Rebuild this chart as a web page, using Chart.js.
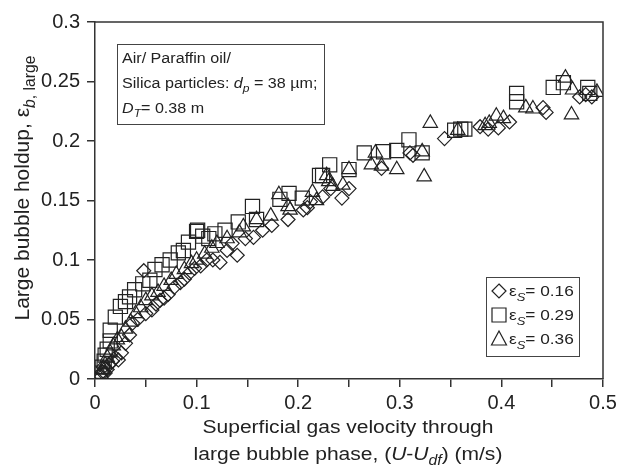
<!DOCTYPE html>
<html>
<head>
<meta charset="utf-8">
<script src="https://cdn.jsdelivr.net/npm/chart.js@4/dist/chart.umd.min.js"></script>
<style>
  html, body { margin: 0; padding: 0; background: #fff; }
  #wrap { width: 621px; height: 468px; }
</style>
</head>
<body>
<div id="wrap"><canvas id="chart" width="621" height="468"></canvas></div>
<script>
// εs = 0.16 (diamonds)
const es016 = [[0.005,0.003],[0.007,0.006],[0.008,0.01],[0.01,0.005],[0.012,0.008],[0.014,0.012],[0.017,0.015],[0.02,0.018],[0.023,0.016],[0.026,0.022],[0.03,0.03],[0.034,0.037],[0.037,0.047],[0.042,0.05],[0.048,0.091],[0.05,0.055],[0.056,0.058],[0.06,0.063],[0.064,0.066],[0.068,0.068],[0.072,0.071],[0.078,0.077],[0.084,0.081],[0.088,0.084],[0.093,0.089],[0.098,0.093],[0.104,0.095],[0.11,0.1],[0.116,0.1],[0.123,0.098],[0.13,0.108],[0.135,0.114],[0.14,0.104],[0.148,0.118],[0.156,0.119],[0.165,0.125],[0.174,0.129],[0.19,0.134],[0.205,0.142],[0.209,0.144],[0.212,0.149],[0.224,0.153],[0.232,0.16],[0.243,0.152],[0.25,0.16],[0.282,0.177],[0.31,0.19],[0.313,0.188],[0.344,0.202],[0.379,0.212],[0.387,0.21],[0.397,0.211],[0.408,0.216],[0.441,0.228],[0.444,0.224],[0.477,0.237],[0.483,0.239],[0.489,0.237]];
// εs = 0.29 (squares)
const es029 = [[0.005,0.005],[0.007,0.01],[0.009,0.015],[0.01,0.02],[0.012,0.025],[0.015,0.032],[0.015,0.041],[0.02,0.052],[0.025,0.061],[0.03,0.065],[0.034,0.069],[0.039,0.075],[0.047,0.08],[0.054,0.083],[0.059,0.092],[0.066,0.096],[0.074,0.1],[0.082,0.106],[0.087,0.108],[0.092,0.115],[0.1,0.124],[0.101,0.125],[0.106,0.12],[0.112,0.118],[0.118,0.122],[0.128,0.125],[0.141,0.132],[0.155,0.145],[0.159,0.134],[0.182,0.151],[0.191,0.156],[0.204,0.152],[0.221,0.171],[0.224,0.171],[0.231,0.18],[0.25,0.176],[0.265,0.19],[0.284,0.191],[0.297,0.192],[0.309,0.201],[0.322,0.19],[0.354,0.209],[0.36,0.21],[0.364,0.21],[0.415,0.24],[0.415,0.233],[0.451,0.245],[0.461,0.249],[0.485,0.245],[0.487,0.24]];
// εs = 0.36 (triangles)
const es036 = [[0.006,0.004],[0.008,0.008],[0.01,0.012],[0.012,0.018],[0.015,0.022],[0.018,0.028],[0.022,0.033],[0.026,0.035],[0.03,0.042],[0.035,0.048],[0.04,0.055],[0.045,0.06],[0.05,0.066],[0.056,0.07],[0.062,0.073],[0.068,0.078],[0.075,0.083],[0.08,0.088],[0.088,0.092],[0.095,0.097],[0.1,0.1],[0.108,0.105],[0.115,0.11],[0.12,0.114],[0.13,0.118],[0.142,0.123],[0.146,0.128],[0.159,0.134],[0.173,0.137],[0.181,0.155],[0.19,0.145],[0.192,0.142],[0.214,0.157],[0.218,0.15],[0.228,0.171],[0.23,0.166],[0.234,0.162],[0.244,0.163],[0.25,0.176],[0.272,0.18],[0.276,0.19],[0.282,0.179],[0.297,0.176],[0.322,0.191],[0.324,0.17],[0.33,0.215],[0.357,0.209],[0.384,0.213],[0.388,0.215],[0.395,0.221],[0.402,0.219],[0.424,0.228],[0.431,0.227],[0.463,0.253],[0.469,0.222],[0.47,0.243],[0.494,0.241]];

const xTicks = [0, 0.05, 0.1, 0.15, 0.2, 0.25, 0.3, 0.35, 0.4, 0.45, 0.5];
const yTicks = [0, 0.05, 0.1, 0.15, 0.2, 0.25, 0.3];
const legendLabels = ["0.16", "0.29", "0.36"];

const FONT = "'Liberation Sans', Arial, sans-serif";
const INK = "#222";
const SX = 1.15; // the original type is a bit wide

const toPts = arr => arr.map(p => ({ x: p[0], y: p[1] }));

// text made of parts: [text, {it, sub}]
function richWidth(ctx, parts, size, sx = SX) {
  let w = 0;
  for (const [t, o = {}] of parts) {
    const s = o.sub ? size * 0.75 : size;
    ctx.font = `${o.it ? "italic " : ""}${s}px ${FONT}`;
    w += ctx.measureText(t).width;
  }
  return w * sx;
}
function drawRich(ctx, x, y, parts, size, sx = SX) {
  ctx.save();
  ctx.translate(x, y);
  ctx.scale(sx, 1);
  let cx = 0;
  for (const [t, o = {}] of parts) {
    const s = o.sub ? size * 0.75 : size;
    ctx.font = `${o.it ? "italic " : ""}${s}px ${FONT}`;
    ctx.fillText(t, cx, o.sub ? size * 0.3 : 0);
    cx += ctx.measureText(t).width;
  }
  ctx.restore();
}

function shape(ctx, style, x, y) {
  ctx.beginPath();
  if (style === "rectRot") {
    ctx.moveTo(x, y - 7); ctx.lineTo(x + 7, y); ctx.lineTo(x, y + 7); ctx.lineTo(x - 7, y); ctx.closePath();
  } else if (style === "rect") {
    ctx.rect(x - 7, y - 7, 14, 14);
  } else {
    ctx.moveTo(x, y - 8); ctx.lineTo(x + 7.5, y + 6); ctx.lineTo(x - 7.5, y + 6); ctx.closePath();
  }
  ctx.stroke();
}

const decor = {
  id: "decor",
  afterDraw(chart) {
    const ctx = chart.ctx;
    const a = chart.chartArea;
    ctx.save();
    ctx.strokeStyle = "#333";
    ctx.lineWidth = 1.5;
    ctx.beginPath();
    ctx.moveTo(a.left, a.top); ctx.lineTo(a.right, a.top); ctx.lineTo(a.right, a.bottom);
    ctx.stroke();

    ctx.fillStyle = INK;
    ctx.textBaseline = "alphabetic";
    ctx.textAlign = "left";

    // info box
    ctx.lineWidth = 1;
    ctx.strokeStyle = "#444";
    ctx.strokeRect(117.5, 44.5, 207, 80);
    drawRich(ctx, 122, 63, [["Air/ Paraffin oil/"]], 14);
    drawRich(ctx, 122, 88, [["Silica particles: "], ["d", { it: true }], ["p", { it: true, sub: true }], [" = 38 \u00b5m;"]], 14);
    drawRich(ctx, 122, 113, [["D", { it: true }], ["T", { it: true, sub: true }], ["= 0.38 m"]], 14);

    // legend box
    ctx.strokeRect(486.5, 277.5, 93, 79);
    const styles = ["rectRot", "rect", "triangle"];
    ctx.strokeStyle = INK;
    ctx.lineWidth = 1.2;
    styles.forEach((st, i) => {
      const cy = 291 + i * 24;
      shape(ctx, st, 499, cy);
      drawRich(ctx, 509, cy + 5, [["\u03b5"], ["S", { it: true, sub: true }], ["= " + legendLabels[i]]], 15);
    });

    // axis titles
    const ts = 18.3;
    const l1 = [["Superficial gas velocity through"]];
    const l2 = [["large bubble phase, ("], ["U", { it: true }], ["-"], ["U", { it: true }], ["df", { it: true, sub: true }], [")"], [" (m/s)"]];
    drawRich(ctx, 348 - richWidth(ctx, l1, ts) / 2, 433, l1, ts);
    drawRich(ctx, 348 - richWidth(ctx, l2, ts) / 2, 460, l2, ts);

    const yts = 21;
    const yt = [["Large bubble holdup, \u03b5"], ["b", { it: true, sub: true }], [", large", { sub: true }]];
    ctx.translate(29, 188);
    ctx.rotate(-Math.PI / 2);
    drawRich(ctx, -richWidth(ctx, yt, yts, 1) / 2, 0, yt, yts, 1);
    ctx.restore();
  }
};

const ctx = document.getElementById("chart").getContext("2d");
new Chart(ctx, {
  type: "scatter",
  data: {
    datasets: [
      { label: "0.16", data: toPts(es016), pointStyle: "rectRot", pointRadius: 7 },
      { label: "0.29", data: toPts(es029), pointStyle: "rect", pointRadius: 10 },
      { label: "0.36", data: toPts(es036), pointStyle: "triangle", pointRadius: 8.3 }
    ].map(d => Object.assign(d, {
      borderColor: INK,
      backgroundColor: "rgba(0,0,0,0)",
      pointBorderWidth: 1.2,
      pointHoverRadius: d.pointRadius
    }))
  },
  options: {
    responsive: false,
    animation: false,
    layout: { padding: { left: 0, right: 18, top: 22, bottom: 0 } },
    plugins: { legend: { display: false }, tooltip: { enabled: false } },
    scales: {
      x: {
        type: "linear", min: 0, max: 0.5,
        afterBuildTicks: s => { s.ticks = xTicks.map(v => ({ value: v })); },
        afterFit: s => { s.height = 89; },
        border: { color: "#333", width: 1.5 },
        grid: { drawOnChartArea: false, drawTicks: true, tickLength: 8, color: "#333", lineWidth: 1.5 },
        ticks: {
          color: INK, padding: 4,
          font: { family: FONT, size: 20 },
          callback: v => (Math.round(v * 100) % 10 === 0 ? String(+v.toFixed(2)) : "")
        }
      },
      y: {
        type: "linear", min: 0, max: 0.3,
        afterBuildTicks: s => { s.ticks = yTicks.map(v => ({ value: v })); },
        afterFit: s => { s.width = 95; },
        border: { color: "#333", width: 1.5 },
        grid: { drawOnChartArea: false, drawTicks: true, tickLength: 8, color: "#333", lineWidth: 1.5 },
        ticks: {
          color: INK, padding: 7,
          font: { family: FONT, size: 20 },
          callback: v => String(+v.toFixed(2))
        }
      }
    }
  },
  plugins: [decor]
});
</script>
</body>
</html>
